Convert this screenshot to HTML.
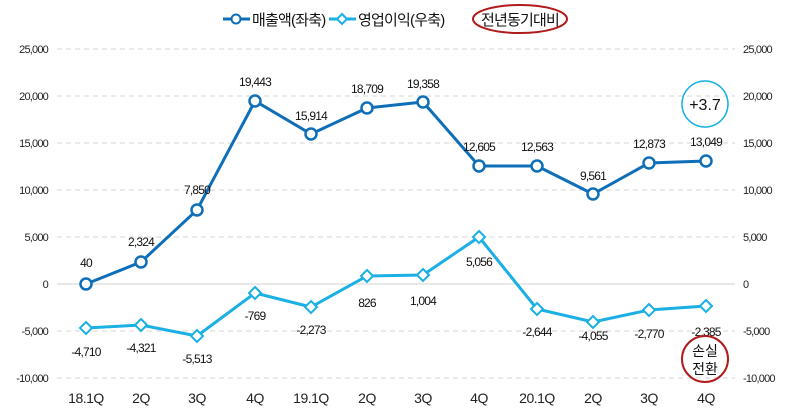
<!DOCTYPE html><html><head><meta charset="utf-8"><style>body{margin:0;background:#fff}svg{display:block;font-family:"Liberation Sans","Noto Sans CJK KR",sans-serif}</style></head><body>
<svg width="788" height="410" viewBox="0 0 788 410">
<g stroke="#d4d4d4" stroke-dasharray="5,4" stroke-width="1">
<line x1="57" x2="735" y1="49" y2="49"/><line x1="57" x2="735" y1="96" y2="96"/><line x1="57" x2="735" y1="143" y2="143"/><line x1="57" x2="735" y1="190" y2="190"/><line x1="57" x2="735" y1="237" y2="237"/><line x1="57" x2="735" y1="331" y2="331"/><line x1="57" x2="735" y1="378" y2="378"/></g>
<line x1="57" x2="735" y1="284" y2="284" stroke="#d0d0d0"/>
<g font-size="11" fill="#222" letter-spacing="-0.8">
<g text-anchor="end"><text x="48" y="53">25,000</text><text x="48" y="100">20,000</text><text x="48" y="147">15,000</text><text x="48" y="194">10,000</text><text x="48" y="241">5,000</text><text x="48" y="288">0</text><text x="48" y="335">-5,000</text><text x="48" y="382">-10,000</text></g>
<g><text x="743" y="53">25,000</text><text x="743" y="100">20,000</text><text x="743" y="147">15,000</text><text x="743" y="194">10,000</text><text x="743" y="241">5,000</text><text x="743" y="288">0</text><text x="743" y="335">-5,000</text><text x="743" y="382">-10,000</text></g></g>
<g font-size="14" fill="#222" text-anchor="middle" letter-spacing="-0.5"><text x="86" y="403">18.1Q</text><text x="141" y="403">2Q</text><text x="197" y="403">3Q</text><text x="255" y="403">4Q</text><text x="311" y="403">19.1Q</text><text x="367" y="403">2Q</text><text x="423" y="403">3Q</text><text x="479" y="403">4Q</text><text x="537" y="403">20.1Q</text><text x="593" y="403">2Q</text><text x="649" y="403">3Q</text><text x="706" y="403">4Q</text></g>
<polyline fill="none" stroke="#0e6fb8" stroke-width="3" points="86,284 141,262 197,210 255,101 311,134 367,108 423,102 479,166 537,166 593,194 649,163 706,161"/>
<g fill="#fff" stroke="#0e6fb8" stroke-width="2.5"><circle cx="86" cy="284" r="5.5"/><circle cx="141" cy="262" r="5.5"/><circle cx="197" cy="210" r="5.5"/><circle cx="255" cy="101" r="5.5"/><circle cx="311" cy="134" r="5.5"/><circle cx="367" cy="108" r="5.5"/><circle cx="423" cy="102" r="5.5"/><circle cx="479" cy="166" r="5.5"/><circle cx="537" cy="166" r="5.5"/><circle cx="593" cy="194" r="5.5"/><circle cx="649" cy="163" r="5.5"/><circle cx="706" cy="161" r="5.5"/></g>
<polyline fill="none" stroke="#1ab0e4" stroke-width="3" points="86,328 141,325 197,336 255,293 311,307 367,276 423,275 479,237 537,309 593,322 649,310 706,306"/>
<g fill="#fff" stroke="#1ab0e4" stroke-width="2"><g transform="translate(86,328)"><path d="M0-6L6 0 0 6-6 0Z"/></g><g transform="translate(141,325)"><path d="M0-6L6 0 0 6-6 0Z"/></g><g transform="translate(197,336)"><path d="M0-6L6 0 0 6-6 0Z"/></g><g transform="translate(255,293)"><path d="M0-6L6 0 0 6-6 0Z"/></g><g transform="translate(311,307)"><path d="M0-6L6 0 0 6-6 0Z"/></g><g transform="translate(367,276)"><path d="M0-6L6 0 0 6-6 0Z"/></g><g transform="translate(423,275)"><path d="M0-6L6 0 0 6-6 0Z"/></g><g transform="translate(479,237)"><path d="M0-6L6 0 0 6-6 0Z"/></g><g transform="translate(537,309)"><path d="M0-6L6 0 0 6-6 0Z"/></g><g transform="translate(593,322)"><path d="M0-6L6 0 0 6-6 0Z"/></g><g transform="translate(649,310)"><path d="M0-6L6 0 0 6-6 0Z"/></g><g transform="translate(706,306)"><path d="M0-6L6 0 0 6-6 0Z"/></g></g>
<g font-size="12" fill="#111" text-anchor="middle" letter-spacing="-0.8">
<text x="86" y="267">40</text><text x="141" y="246">2,324</text><text x="197" y="194">7,850</text><text x="255" y="86">19,443</text><text x="311" y="120">15,914</text><text x="367" y="93">18,709</text><text x="423" y="88">19,358</text><text x="479" y="151">12,605</text><text x="537" y="151">12,563</text><text x="593" y="180">9,561</text><text x="649" y="148">12,873</text><text x="706" y="146">13,049</text>
<text x="86" y="356">-4,710</text><text x="141" y="352">-4,321</text><text x="197" y="363">-5,513</text><text x="255" y="320">-769</text><text x="311" y="334">-2,273</text><text x="367" y="307">826</text><text x="423" y="305">1,004</text><text x="479" y="266">5,056</text><text x="537" y="336">-2,644</text><text x="593" y="340">-4,055</text><text x="649" y="338">-2,770</text><text x="706" y="336">-2,385</text></g>
<circle cx="705" cy="104" r="23" fill="none" stroke="#1ab0e4" stroke-width="1.5"/>
<text x="705" y="110" font-size="16" text-anchor="middle" fill="#111">+3.7</text>
<circle cx="705" cy="359" r="23" fill="none" stroke="#b01c1c" stroke-width="2"/>
<text x="705" y="356" font-size="14" text-anchor="middle" fill="#111">손실</text><text x="705" y="374" font-size="14" text-anchor="middle" fill="#111">전환</text>
<line x1="223" x2="250" y1="19" y2="19" stroke="#0e6fb8" stroke-width="3"/><circle cx="236" cy="19" r="4.5" fill="#fff" stroke="#0e6fb8" stroke-width="2"/>
<text x="252" y="25" font-size="15" fill="#111" letter-spacing="-0.8">매출액(좌축)</text>
<line x1="329" x2="356" y1="19" y2="19" stroke="#1ab0e4" stroke-width="3"/><path d="M342 14L347 19 342 24 337 19Z" fill="#fff" stroke="#1ab0e4" stroke-width="2"/>
<text x="358" y="25" font-size="15" fill="#111" letter-spacing="-0.8">영업이익(우축)</text>
<ellipse cx="520" cy="19" rx="47" ry="14" fill="none" stroke="#b01c1c" stroke-width="2"/>
<text x="520" y="25" font-size="15" text-anchor="middle" fill="#111" letter-spacing="-0.8">전년동기대비</text>
</svg></body></html>
